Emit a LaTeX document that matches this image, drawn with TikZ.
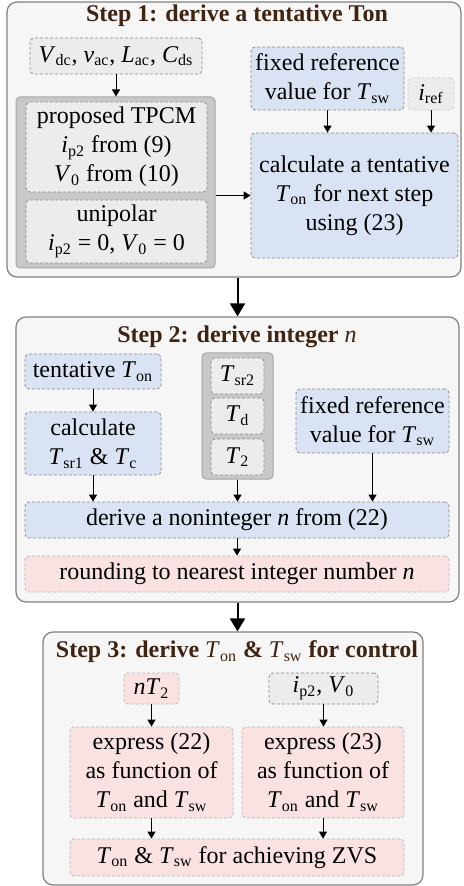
\documentclass[tikz,border=0pt]{standalone}
\usepackage{fontspec}
\setmainfont{Liberation Serif}
\usetikzlibrary{arrows.meta,positioning,calc,backgrounds}
\definecolor{cblue}{RGB}{218,227,243}
\definecolor{cpink}{RGB}{250,226,227}
\definecolor{cgray}{RGB}{236,236,236}
\definecolor{cgrp}{RGB}{200,200,200}
\definecolor{cstep}{RGB}{246,246,246}
\definecolor{ctitle}{RGB}{64,36,18}
\newcommand{\vsub}[2]{\textit{#1}\textsubscript{#2}}

\begin{document}
\begin{tikzpicture}[
  x=0.5pt,y=-0.5pt,
  font=\fontsize{12}{14.5}\selectfont,
  stepbox/.style={draw=black!50,fill=cstep,line width=0.6pt,rounded corners=5pt,inner sep=0pt},
  grp/.style={draw=black!35,fill=cgrp,line width=0.5pt,rounded corners=2pt,inner sep=0pt},
  bbox/.style={draw=black!45,dash pattern=on 1.5pt off 1pt,line width=0.4pt,fill=cblue,
    rounded corners=2pt,inner sep=0pt,align=center},
  gbox/.style={bbox,fill=cgray},
  pbox/.style={bbox,fill=cpink,draw=black!28},
  ttl/.style={font=\fontsize{12}{14.5}\selectfont\bfseries,text=ctitle},
  arrow/.style={-{Triangle[width=4pt,length=3.5pt]},line width=0.5pt},
  bigarrow/.style={-{Triangle[width=7.5pt,length=6.5pt]},line width=1pt}
]
\useasboundingbox (0,0) rectangle (463,886);

% ---- step frames ----
\node[stepbox,minimum width=227pt,minimum height=137.5pt] (step1) at (234,139.5) {};
\node[stepbox,minimum width=221.5pt,minimum height=142.5pt] (step2) at (237.5,459.5) {};
\node[stepbox,minimum width=190pt,minimum height=126.5pt] (step3) at (233,758.5) {};

% ---- titles ----
\node[ttl] (ttl1) at (237,16) {Step 1: derive a tentative Ton};
\node[ttl] (ttl2) at (237,337) {Step 2: derive integer {\mdseries\itshape n}};
\node[ttl] (ttl3) at (237,652) {Step 3: derive {\mdseries\vsub{T}{on}} \& {\mdseries\vsub{T}{sw}} for control};

% ================= step 1 =================
\node[gbox,minimum width=86pt,minimum height=18pt] (in1) at (116,56)
  {\vsub{V}{dc}, \vsub{v}{ac}, \vsub{L}{ac}, \vsub{C}{ds}};
\node[grp,minimum width=99.5pt,minimum height=85.5pt] (grp1) at (115.5,182.5) {};
\node[gbox,minimum width=90.5pt,minimum height=45pt] (tpcm) at (116.5,147)
  {proposed TPCM\\ \vsub{i}{p2} from (9)\\ \vsub{V}{0} from (10)};
\node[gbox,minimum width=90.5pt,minimum height=31.5pt] (uni) at (116.5,231.5)
  {unipolar\\ \vsub{i}{p2} = 0, \vsub{V}{0} = 0};
\node[bbox,minimum width=76.5pt,minimum height=31.5pt] (fix1) at (327.5,78.5)
  {fixed reference\\ value for \vsub{T}{sw}};
\node[gbox,draw=black!20,minimum width=23pt,minimum height=16pt] (iref) at (431,94) {\vsub{i}{ref}};
\node[bbox,minimum width=103.5pt,minimum height=62.5pt] (calc1) at (354.5,195.5)
  {calculate a tentative\\ \vsub{T}{on} for next step\\ using (23)};

\draw[arrow] (in1) -- (in1 |- grp1.north);
\draw[arrow] (calc1.west -| grp1.east) -- (calc1.west);
\draw[arrow] (fix1) -- (fix1 |- calc1.north);
\draw[arrow] (iref) -- (iref |- calc1.north);

\draw[bigarrow] (step2.north |- step1.south) -- (step2.north);

% ================= step 2 =================
\node[bbox,minimum width=68pt,minimum height=17.5pt] (ton) at (93,371.5) {tentative \vsub{T}{on}};
\node[bbox,minimum width=68pt,minimum height=31.5pt] (calc2) at (93,443.5)
  {calculate\\ \vsub{T}{sr1} \& \vsub{T}{c}};
\node[grp,minimum width=35.5pt,minimum height=63pt] (grp2) at (237.5,416) {};
\node[gbox,minimum width=26.5pt,minimum height=18pt] (tsr2) at (237.5,376) {\vsub{T}{sr2}};
\node[gbox,minimum width=26.5pt,minimum height=18pt] (td) at (237.5,416) {\vsub{T}{d}};
\node[gbox,minimum width=26.5pt,minimum height=18pt] (t2) at (237.5,457) {\vsub{T}{2}};
\node[bbox,minimum width=76.5pt,minimum height=32pt] (fix2) at (372.5,421)
  {fixed reference\\ value for \vsub{T}{sw}};
\node[bbox,minimum width=212pt,minimum height=18pt] (nonint) at (237,520)
  {derive a noninteger \textit{n} from (22)};
\node[pbox,minimum width=212pt,minimum height=18pt] (round) at (237,574)
  {rounding to nearest integer number \textit{n}};

\draw[arrow] (ton) -- (calc2);
\draw[arrow] (calc2) -- (calc2 |- nonint.north);
\draw[arrow] (grp2) -- (grp2 |- nonint.north);
\draw[arrow] (fix2) -- (fix2 |- nonint.north);
\draw[arrow] (nonint) -- (round);

\draw[bigarrow] (step2.south) -- (step2.south |- step3.north);

% ================= step 3 =================
\node[pbox,minimum width=27.5pt,minimum height=15.5pt] (nt2) at (151.5,688.5) {\textit{n}\vsub{T}{2}};
\node[gbox,minimum width=54.5pt,minimum height=15.5pt] (ipv) at (323.5,688.5) {\vsub{i}{p2}, \vsub{V}{0}};
\node[pbox,minimum width=81.5pt,minimum height=45.5pt] (exp22) at (151.5,772.5)
  {express (22)\\ as function of\\ \vsub{T}{on} and \vsub{T}{sw}};
\node[pbox,minimum width=81pt,minimum height=45.5pt] (exp23) at (323,772.5)
  {express (23)\\ as function of\\ \vsub{T}{on} and \vsub{T}{sw}};
\node[pbox,minimum width=167pt,minimum height=18.5pt] (zvs) at (237,857.5)
  {\vsub{T}{on} \& \vsub{T}{sw} for achieving ZVS};

\draw[arrow] (nt2) -- (exp22);
\draw[arrow] (ipv) -- (ipv |- exp23.north);
\draw[arrow] (exp22) -- (exp22 |- zvs.north);
\draw[arrow] (exp23) -- (exp23 |- zvs.north);
\end{tikzpicture}
\end{document}
